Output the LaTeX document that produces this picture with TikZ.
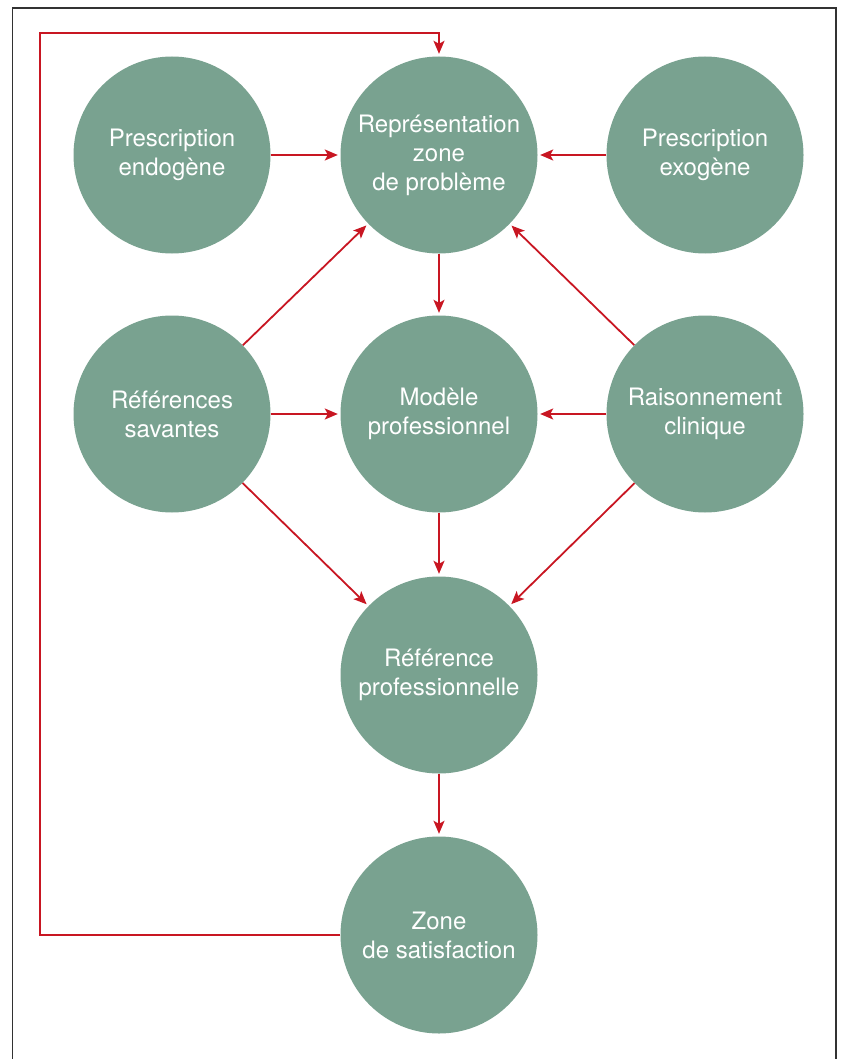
\documentclass[tikz,border=0pt]{standalone}
\usepackage{fontspec}
\setmainfont{TeX Gyre Heros}
\usetikzlibrary{arrows.meta}
\definecolor{cgreen}{RGB}{121,162,144}
\definecolor{cred}{RGB}{200,22,34}
\definecolor{cframe}{RGB}{50,50,50}
\begin{document}
\begin{tikzpicture}[x=1pt,y=-1pt,
  bub/.style={circle,fill=cgreen,draw=none,minimum size=197pt,inner sep=0pt,
    text=white,align=center,font=\fontsize{24}{29}\selectfont},
  link/.style={draw=cred,line width=1.8pt,-{Stealth[length=13pt,width=11pt,inset=3pt]},shorten >=2.5pt}]
\useasboundingbox (0,0) rectangle (840,1059);
\draw[cframe,line width=1.5pt] (12.5,1060) -- (12.5,8) -- (836,8) -- (836,1060);
\node[bub] (endo) at (172,155) {Prescription\\endogène};
\node[bub] (repr) at (439,155) {Représentation\\zone\\de problème};
\node[bub] (exo) at (705,155) {Prescription\\exogène};
\node[bub] (sav) at (172,414) {Références\\savantes};
\node[bub] (mod) at (439,414) {Modèle\\professionnel};
\node[bub] (rais) at (705,414) {Raisonnement\\clinique};
\node[bub] (refp) at (439,675) {Référence\\professionnelle};
\node[bub] (zone) at (439,935) {Zone\\de satisfaction};
\coordinate (c1) at (40,935);
\coordinate (c2) at (40,33);
\coordinate (c3) at (439,33);
\draw[link] (endo) -- (repr);
\draw[link] (exo) -- (repr);
\draw[link] (repr) -- (mod);
\draw[link] (sav) -- (repr);
\draw[link] (sav) -- (mod);
\draw[link] (sav) -- (refp);
\draw[link] (rais) -- (repr);
\draw[link] (rais) -- (mod);
\draw[link] (rais) -- (refp);
\draw[link] (mod) -- (refp);
\draw[link] (refp) -- (zone);
\draw[link] (zone.west) -- (c1) -- (c2) -- (c3) -- (repr.north);
\end{tikzpicture}
\end{document}
